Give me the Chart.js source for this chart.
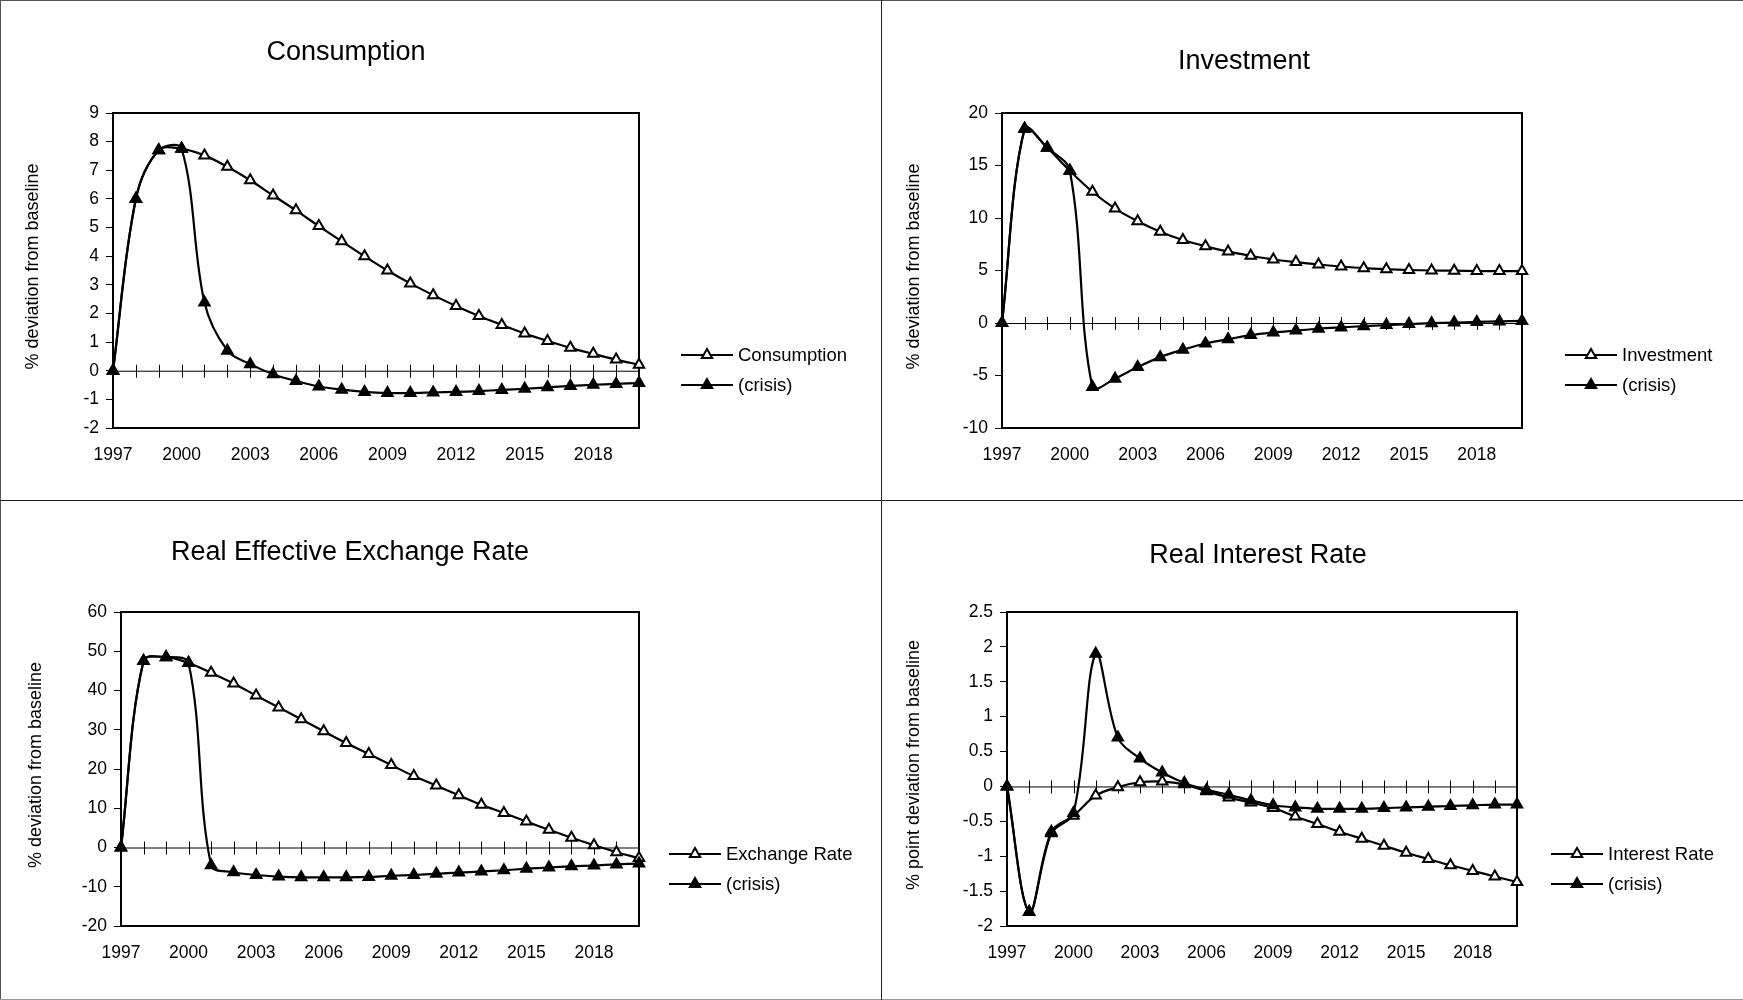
<!DOCTYPE html>
<html>
<head>
<meta charset="utf-8">
<title>Crisis scenario responses</title>
<script src="https://cdn.jsdelivr.net/npm/chart.js@4.4.0/dist/chart.umd.min.js"></script>
<style>
  body { margin: 0; background: #fff; }
  #page { position: relative; width: 1743px; height: 1000px; overflow: hidden; background: #fff; }
  #page canvas { position: absolute; }
  .rule { position: absolute; background: #222; }
</style>
</head>
<body>
<div id="page">
  <canvas id="consumptionChart"></canvas>
  <canvas id="investmentChart"></canvas>
  <canvas id="exchangeChart"></canvas>
  <canvas id="interestChart"></canvas>
  <div class="rule" style="left:0;top:0;width:1743px;height:1px;background:#555"></div>
  <div class="rule" style="left:0;top:0;width:1px;height:1000px;background:#555"></div>
  <div class="rule" style="left:0;top:999px;width:1743px;height:1px;background:#999"></div>
  <div class="rule" style="left:881px;top:0;width:1px;height:1000px"></div>
  <div class="rule" style="left:0;top:500px;width:1743px;height:1px"></div>
</div>
<script>
// years on the x axis, and the ones that get a label
const years = ['1997', '1998', '1999', '2000', '2001', '2002', '2003', '2004', '2005', '2006', '2007', '2008',
  '2009', '2010', '2011', '2012', '2013', '2014', '2015', '2016', '2017', '2018', '2019', '2020'];
const xTickLabels = ['1997', '2000', '2003', '2006', '2009', '2012', '2015', '2018'];

// % deviation from baseline
const consumption = [0, 6.0, 7.7, 7.75, 7.52, 7.12, 6.65, 6.12, 5.6, 5.05, 4.52, 4.0, 3.5, 3.05, 2.64, 2.26,
  1.91, 1.6, 1.3, 1.04, 0.8, 0.59, 0.39, 0.21];
const consumptionCrisis = [0, 6.0, 7.7, 7.75, 2.38, 0.7, 0.23, -0.12, -0.36, -0.55, -0.66, -0.74, -0.78, -0.78,
  -0.76, -0.74, -0.71, -0.67, -0.63, -0.58, -0.53, -0.49, -0.46, -0.43];

const investment = [0, 18.5, 16.7, 14.5, 12.5, 10.9, 9.7, 8.7, 7.9, 7.3, 6.8, 6.4, 6.05, 5.8, 5.58, 5.38,
  5.22, 5.12, 5.05, 5.0, 4.98, 4.95, 4.95, 4.95];
const investmentCrisis = [0, 18.5, 16.7, 14.5, -6.1, -5.3, -4.2, -3.25, -2.55, -1.95, -1.55, -1.15, -0.9, -0.72,
  -0.55, -0.42, -0.3, -0.2, -0.1, -0.02, 0.04, 0.1, 0.15, 0.2];

const exchangeRate = [0, 47.5, 48.5, 47.0, 44.5, 41.8, 38.7, 35.7, 32.7, 29.6, 26.6, 23.8, 21.0, 18.2, 15.8,
  13.3, 10.9, 8.8, 6.6, 4.5, 2.5, 0.6, -1.2, -2.7];
const exchangeCrisis = [0, 47.5, 48.5, 47.0, -4.5, -6.3, -7.0, -7.4, -7.6, -7.6, -7.6, -7.5, -7.2, -7.0, -6.7,
  -6.4, -6.1, -5.8, -5.4, -5.1, -4.8, -4.6, -4.3, -4.1];

// % point deviation from baseline
const interestRate = [0, -1.8, -0.65, -0.42, -0.13, -0.01, 0.06, 0.07, 0.03, -0.07, -0.16, -0.23, -0.31, -0.43,
  -0.54, -0.65, -0.75, -0.85, -0.95, -1.04, -1.13, -1.21, -1.29, -1.37];
const interestCrisis = [0, -1.8, -0.67, -0.38, 1.9, 0.7, 0.4, 0.2, 0.05, -0.05, -0.12, -0.2, -0.27, -0.3, -0.32,
  -0.32, -0.32, -0.31, -0.3, -0.29, -0.28, -0.27, -0.26, -0.26];

Chart.defaults.font.family = '"Liberation Sans", Arial, sans-serif';
Chart.defaults.color = '#000';

const FONT = '"Liberation Sans", Arial, sans-serif';
const Y_WIDTH = 70;   // fixed y scale width
const X_HEIGHT = 50;  // fixed x scale height
const MARK = 6;       // triangle radius

// draws zero axis, plot frame, title, axis title and legend
const panelPlugin = {
  id: 'panel',
  beforeDatasetsDraw(chart, args, opts) {
    const { ctx, chartArea: a, scales } = chart;
    const y0 = scales.y.getPixelForValue(0);
    ctx.save();
    ctx.strokeStyle = '#000';
    ctx.lineWidth = 1;
    ctx.beginPath();
    ctx.moveTo(a.left, y0 + 0.5);
    ctx.lineTo(a.right, y0 + 0.5);
    years.forEach((yr, i) => {
      const x = Math.round(scales.x.getPixelForValue(i)) + 0.5;
      ctx.moveTo(x, y0 - 6);
      ctx.lineTo(x, y0 + 7);
    });
    ctx.stroke();
    ctx.lineWidth = 2;
    ctx.strokeRect(a.left, a.top, a.right - a.left, a.bottom - a.top);
    ctx.restore();
  },
  afterDraw(chart, args, opts) {
    const { ctx, chartArea: a } = chart;
    ctx.save();
    ctx.fillStyle = '#000';
    ctx.textBaseline = 'middle';

    ctx.font = '27px ' + FONT;
    ctx.textAlign = 'center';
    ctx.fillText(opts.title, opts.titleX, opts.titleY);

    ctx.save();
    ctx.translate(opts.yLabelX, (a.top + a.bottom) / 2 - 4);
    ctx.rotate(-Math.PI / 2);
    ctx.font = '18px ' + FONT;
    ctx.fillText(opts.yLabel, 0, 0);
    ctx.restore();

    ctx.font = '18.5px ' + FONT;
    ctx.textAlign = 'left';
    chart.data.datasets.forEach((ds, i) => {
      const y = a.top + 242 + i * 30;
      const x = opts.legendX;
      ctx.strokeStyle = '#000';
      ctx.lineWidth = 2.2;
      ctx.beginPath();
      ctx.moveTo(x, y);
      ctx.lineTo(x + 52, y);
      ctx.stroke();
      ctx.fillStyle = ds.pointBackgroundColor;
      ctx.lineWidth = 2;
      Chart.helpers.drawPoint(ctx, { pointStyle: 'triangle', radius: MARK, rotation: 0, borderWidth: 2 }, x + 26, y);
      ctx.fillStyle = '#000';
      ctx.fillText(ds.label, x + 57, y + 1);
    });
    ctx.restore();
  }
};

function series(label, data, fill, order) {
  return {
    label, data, order,
    borderColor: '#000', borderWidth: 2.2, fill: false, tension: 0.35, clip: 12,
    pointStyle: 'triangle', pointRadius: MARK, pointBorderWidth: 2,
    pointBackgroundColor: fill, pointBorderColor: '#000'
  };
}

function makePanel(id, box, plot, cfg) {
  const canvas = document.getElementById(id);
  canvas.width = box.w;
  canvas.height = box.h;
  canvas.style.left = box.x + 'px';
  canvas.style.top = box.y + 'px';

  new Chart(canvas, {
    type: 'line',
    data: {
      labels: years,
      datasets: [series(cfg.label, cfg.main, '#fff', 1), series('(crisis)', cfg.crisis, '#000', 0)]
    },
    options: {
      responsive: false,
      devicePixelRatio: 1,
      animation: false,
      events: [],
      layout: {
        padding: {
          left: plot.l - box.x - Y_WIDTH,
          top: plot.t - box.y,
          right: box.x + box.w - plot.r,
          bottom: box.y + box.h - plot.b - X_HEIGHT
        }
      },
      plugins: {
        legend: { display: false },
        tooltip: { enabled: false },
        panel: {
          title: cfg.title, titleX: cfg.titleX - box.x, titleY: cfg.titleY - box.y,
          yLabel: cfg.yLabel, yLabelX: cfg.yLabelX - box.x, legendX: cfg.legendX - box.x
        }
      },
      scales: {
        x: {
          offset: false,
          grid: { display: false, drawTicks: false, tickLength: 0 },
          border: { display: false },
          ticks: {
            autoSkip: false, maxRotation: 0, padding: 17, font: { size: 17.5 },
            callback(v) {
              const l = this.getLabelForValue(v);
              return xTickLabels.includes(l) ? l : '';
            }
          },
          afterFit(s) { s.height = X_HEIGHT; }
        },
        y: {
          min: cfg.min, max: cfg.max,
          ticks: { stepSize: cfg.step, padding: 7, font: { size: 17.5 }, callback: v => String(v) },
          grid: { drawOnChartArea: false, drawTicks: true, tickLength: 7, color: '#000', lineWidth: 1 },
          border: { display: true, color: '#000', width: 2 },
          afterFit(s) { s.width = Y_WIDTH; }
        }
      }
    },
    plugins: [panelPlugin]
  });
}

makePanel('consumptionChart', { x: 0, y: 0, w: 880, h: 500 }, { l: 113, t: 113, r: 639, b: 428 }, {
  title: 'Consumption', titleX: 346, titleY: 53, yLabel: '% deviation from baseline', yLabelX: 33,
  legendX: 681, label: 'Consumption', main: consumption, crisis: consumptionCrisis, min: -2, max: 9, step: 1
});
makePanel('investmentChart', { x: 881, y: 0, w: 862, h: 500 }, { l: 1002, t: 113, r: 1522, b: 428 }, {
  title: 'Investment', titleX: 1244, titleY: 62, yLabel: '% deviation from baseline', yLabelX: 914,
  legendX: 1565, label: 'Investment', main: investment, crisis: investmentCrisis, min: -10, max: 20, step: 5
});
makePanel('exchangeChart', { x: 0, y: 500, w: 880, h: 500 }, { l: 121, t: 612, r: 639, b: 926 }, {
  title: 'Real Effective Exchange Rate', titleX: 350, titleY: 553, yLabel: '% deviation from baseline', yLabelX: 36,
  legendX: 669, label: 'Exchange Rate', main: exchangeRate, crisis: exchangeCrisis, min: -20, max: 60, step: 10
});
makePanel('interestChart', { x: 881, y: 500, w: 862, h: 500 }, { l: 1007, t: 612, r: 1517, b: 926 }, {
  title: 'Real Interest Rate', titleX: 1258, titleY: 556, yLabel: '% point deviation from baseline', yLabelX: 914,
  legendX: 1551, label: 'Interest Rate', main: interestRate, crisis: interestCrisis, min: -2, max: 2.5, step: 0.5
});
</script>
</body>
</html>
